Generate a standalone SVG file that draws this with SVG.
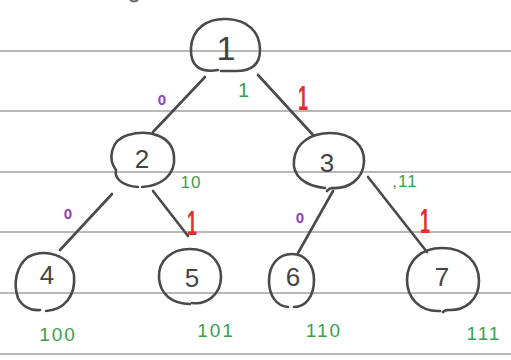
<svg xmlns="http://www.w3.org/2000/svg" width="511" height="360" viewBox="0 0 511 360">
<style>
.rule{stroke:#a0a0a0;stroke-width:1.5}
.node{fill:none;stroke:#4a4a4a;stroke-width:2.6;stroke-linecap:round}
.num{font-family:"Liberation Sans",sans-serif;font-size:26px;fill:#444;text-anchor:middle}
.edge{stroke:#4a4a4a;stroke-width:2.6;stroke-linecap:round}
.g{font-family:"Liberation Sans",sans-serif;font-size:17px;fill:#3aa04e;text-anchor:middle;letter-spacing:1px}
.gl{font-family:"Liberation Sans",sans-serif;font-size:19px;fill:#3aa04e;text-anchor:middle;letter-spacing:2px}
.p{font-family:"Liberation Sans",sans-serif;font-size:15px;fill:#9040c0;text-anchor:middle;font-weight:bold}
.r{font-family:"Liberation Sans",sans-serif;font-size:36px;fill:#e0302c;text-anchor:middle;font-weight:bold}
</style>
<rect width="511" height="360" fill="#ffffff"/>
<g id="rules">
<line class="rule" x1="0" y1="51" x2="511" y2="51"/>
<line class="rule" x1="0" y1="111" x2="511" y2="111"/>
<line class="rule" x1="0" y1="172" x2="511" y2="172"/>
<line class="rule" x1="0" y1="232" x2="511" y2="232"/>
<line class="rule" x1="0" y1="293" x2="511" y2="293"/>
<line class="rule" x1="0" y1="354" x2="511" y2="354"/>
<path d="M130 0 Q134 3 138 0" fill="none" stroke="#666" stroke-width="2"/>
</g>
<g id="connectors">
<line class="edge" x1="205" y1="77" x2="153" y2="132"/>
<line class="edge" x1="258" y1="75" x2="313" y2="135"/>
<line class="edge" x1="112" y1="194" x2="60" y2="250"/>
<line class="edge" x1="153" y1="191" x2="188" y2="236"/>
<line class="edge" x1="333" y1="191" x2="298" y2="253"/>
<line class="edge" x1="368" y1="177" x2="427" y2="252"/>
</g>
<g id="node1">
<path class="node" d="M218 70 C200 73 190 66 191 48 C192 28 208 18 227 19 C248 20 260 32 260 50 C260 66 250 71 236 71 L221 71"/>
<text class="num" x="226" y="60" style="font-size:34px">1</text>
</g>
<g id="node2">
<path class="node" d="M138 187 C122 186 114 178 116 170 C108 160 110 140 128 135 C150 129 172 136 174 156 C176 176 160 186 142 187"/>
<text class="num" x="142" y="168">2</text>
</g>
<g id="node3">
<path class="node" d="M325 188 C305 186 292 176 294 160 C296 142 312 133 330 133 C352 133 365 146 364 162 C363 180 348 189 332 188 C329 188 328 190 327 191"/>
<text class="num" x="327" y="172">3</text>
</g>
<g id="node4">
<path class="node" d="M40 310 C30 311 22 306 18 298 C13 284 16 266 28 257 C45 248 70 255 74 275 C76 296 64 310 46 311"/>
<text class="num" x="47" y="284">4</text>
</g>
<g id="node5">
<path class="node" d="M190 304 C172 304 160 294 159 278 C158 260 172 249 190 249 C210 249 221 262 221 277 C221 295 206 305 192 303"/>
<text class="num" x="192" y="287">5</text>
</g>
<g id="node6">
<path class="node" d="M288 307 C276 306 269 295 269 281 C269 265 278 254 292 254 C306 254 314 266 314 280 C314 296 306 307 294 307"/>
<text class="num" x="293" y="286">6</text>
</g>
<g id="node7">
<path class="node" d="M440 311 C420 312 407 298 407 280 C407 260 422 248 442 248 C465 248 479 262 479 281 C479 300 465 311 448 310 C446 310 444 311 443 312"/>
<text class="num" x="442" y="286">7</text>
</g>
<g id="labels">
<text class="p" x="162" y="105">0</text>
<text class="g" x="244" y="97" style="font-size:20px">1</text>
<text class="r" transform="translate(303 110) scale(0.5 1)">1</text>
<text class="g" x="191" y="188">10</text>
<text class="g" x="405" y="187">,11</text>
<text class="p" x="68" y="219">0</text>
<text class="r" transform="translate(192 235) scale(0.5 1)">1</text>
<text class="p" x="300" y="223">0</text>
<text class="r" transform="translate(425 233) scale(0.5 1)">1</text>
<text class="gl" x="58" y="341">100</text>
<text class="gl" x="216" y="337">101</text>
<text class="gl" x="324" y="337">110</text>
<text class="gl" x="484" y="340">111</text>
</g>
</svg>
